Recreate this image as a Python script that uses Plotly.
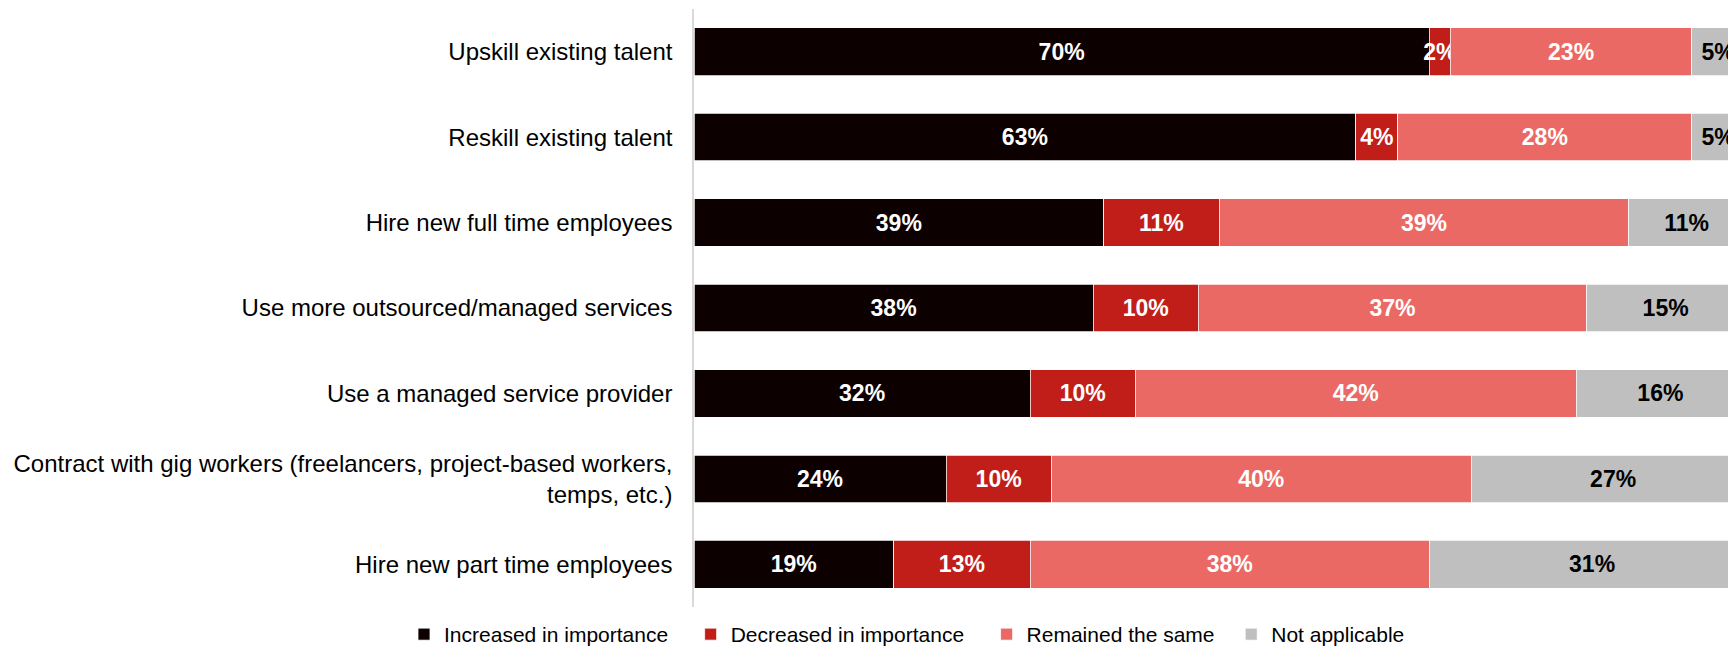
import plotly.graph_objects as go

categories = [
    "Upskill existing talent",
    "Reskill existing talent",
    "Hire new full time employees",
    "Use more outsourced/managed services",
    "Use a managed service provider",
    "Contract with gig workers (freelancers, project-based workers,<br>temps, etc.)",
    "Hire new part time employees",
]
increased = [70, 63, 39, 38, 32, 24, 19]
decreased = [2, 4, 11, 10, 10, 10, 13]
remained = [23, 28, 39, 37, 42, 40, 38]
not_applicable = [5, 5, 11, 15, 16, 27, 31]

series_names = ["Increased in importance", "Decreased in importance",
                "Remained the same", "Not applicable"]
# trailing no-break spaces widen the gap between legend entries
legend_pad = ["\u00a0\u00a0\u00a0", "\u00a0\u00a0\u00a0", "\u00a0\u00a0", ""]
series_values = [increased, decreased, remained, not_applicable]
colors = ["#0d0000", "#c11e1a", "#eb6965", "#bfbfbf"]
text_colors = ["#ffffff", "#ffffff", "#ffffff", "#000000"]

FONT = "Liberation Sans, Arial, Helvetica, sans-serif"

fig = go.Figure()
for name, pad, vals, col, tcol in zip(series_names, legend_pad, series_values,
                                      colors, text_colors):
    fig.add_trace(go.Bar(
        name=name + pad,
        y=categories,
        x=vals,
        orientation="h",
        marker=dict(color=col, line=dict(color="#ffffff", width=0.75)),
        text=[f"{v}%" for v in vals],
        textposition="inside",
        insidetextanchor="middle",
        constraintext="none",
        textangle=0,
        textfont=dict(family=FONT, size=23, color=tcol, weight="bold"),
        hoverinfo="skip",
    ))

# the page body adds an 8px offset, so the figure is 8px smaller than the window
fig.update_layout(
    width=1728,
    height=639,
    barmode="stack",
    bargap=0.443,
    paper_bgcolor="#ffffff",
    plot_bgcolor="#ffffff",
    margin=dict(l=686, r=0, t=1, b=40, autoexpand=False),
    font=dict(family=FONT, color="#000000"),
    showlegend=True,
    legend=dict(
        orientation="h",
        traceorder="normal",
        x=-0.2783,
        xanchor="left",
        y=-0.046,
        yanchor="middle",
        font=dict(family=FONT, size=21, color="#000000"),
        bgcolor="rgba(0,0,0,0)",
    ),
    xaxis=dict(visible=False, range=[0, 99.2], fixedrange=True),
    yaxis=dict(
        autorange="reversed",
        automargin=False,
        showline=True,
        linecolor="#d9d9d9",
        linewidth=1.5,
        ticks="",
        showgrid=False,
        tickfont=dict(family=FONT, size=24, color="#000000"),
        ticklabelstandoff=15,
        fixedrange=True,
    ),
)

fig.write_html("out.html")
